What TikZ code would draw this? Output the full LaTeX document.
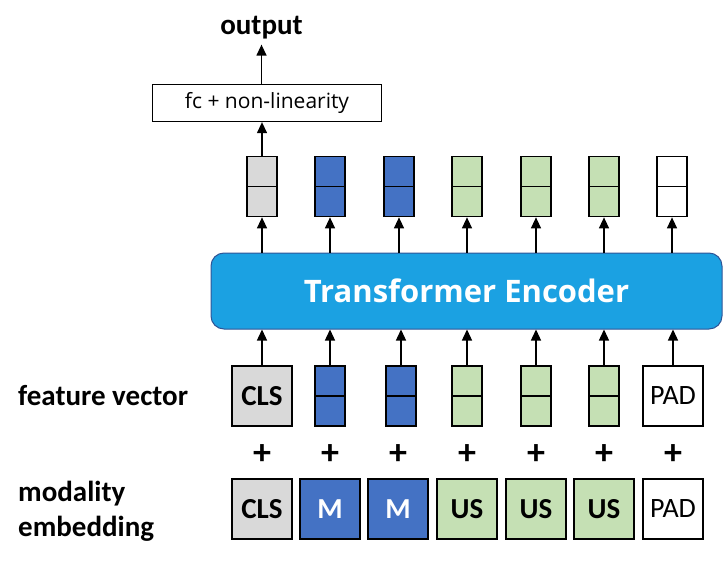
\documentclass[tikz,border=0pt]{standalone}
\usepackage{fontspec}
\setmainfont{Carlito}
\newfontfamily\encfont{Open Sans}
\usepackage{tikz}
\usetikzlibrary{positioning,arrows.meta}
\definecolor{clsgray}{HTML}{D9D9D9}
\definecolor{mblue}{HTML}{4472C4}
\definecolor{usgreen}{HTML}{C5E0B4}
\definecolor{encblue}{HTML}{1BA1E2}
\definecolor{encline}{HTML}{2F5597}
\tikzset{
  tok/.style={draw,line width=1.3pt,minimum width=60pt,minimum height=60pt,inner sep=0pt,font=\fontsize{28}{32}\selectfont},
  vec/.style={draw,line width=1.3pt,minimum width=30pt,minimum height=60pt,inner sep=0pt},
  arr/.style={-{Triangle[length=11pt,width=10pt]},line width=1.3pt},
  enc/.style={draw=encline,fill=encblue,line width=1pt,rounded corners=13pt,minimum width=511pt,minimum height=76pt,text=white,font=\encfont\bfseries\fontsize{31}{34}\selectfont},
  fcbox/.style={draw,line width=1.3pt,minimum width=229pt,minimum height=37pt,inner sep=0pt,font=\encfont\fontsize{21}{24}\selectfont},
  lbl/.style={font=\bfseries\fontsize{29}{35}\selectfont,inner sep=0pt},
  plus/.style={font=\bfseries\fontsize{36}{36}\selectfont,inner sep=0pt}
}
\begin{document}
\begin{tikzpicture}[x=1pt,y=-1pt]
\useasboundingbox (0,0) rectangle (726,562);
\node[enc] (enc) at (466.5,291) {Transformer Encoder};
% output tokens
\foreach \i/\x/\c in {1/262/clsgray,2/330/mblue,3/399/mblue,4/467/usgreen,5/536/usgreen,6/604/usgreen,7/672/white}{
  \node[vec,fill=\c] (o\i) at (\x,186.7) {};
  \draw[line width=1.3pt] (o\i.west) -- (o\i.east);
  \draw[arr] (enc.north -| o\i) -- (o\i);
}
% input feature vectors
\node[tok,fill=clsgray,font=\bfseries\fontsize{29}{32}\selectfont] (f1) at (262,396) {CLS};
\foreach \i/\x/\c in {2/330/mblue,3/401/mblue,4/467/usgreen,5/536/usgreen,6/604/usgreen}{
  \node[vec,fill=\c] (f\i) at (\x,396) {};
  \draw[line width=1.3pt] (f\i.west) -- (f\i.east);
}
\node[tok,fill=white] (f7) at (673,396) {PAD};
\foreach \i in {1,...,7}{
  \draw[arr] (f\i) -- (f\i |- enc.south);
}
% modality embeddings
\foreach \i/\x/\c/\t/\tc in {1/262/clsgray/CLS/black,2/330/mblue/M/white,3/398/mblue/M/white,4/467/usgreen/US/black,5/536/usgreen/US/black,6/604/usgreen/US/black}{
  \node[tok,fill=\c,text=\tc,font=\bfseries\fontsize{29}{32}\selectfont] (m\i) at (\x,509) {\t};
  \node[plus] (p\i) at (\x,455) {+};
}
\node[tok,fill=white] (m7) at (673,509) {PAD};
\node[plus] (p7) at (673,455) {+};
% head
\node[fcbox] (fc) at (267,103) {fc + non-linearity};
\draw[arr] (o1) -- (o1 |- fc.south);
\node[lbl] (out) at (261.5,28) {output};
\draw[arr,shorten >=5pt] (fc.north -| out) -- (out);
\node[lbl,anchor=west] (fv) at (18,396) {feature vector};
\node[lbl,anchor=west,align=left] (me) at (18,511) {modality\\embedding};
\end{tikzpicture}
\end{document}
